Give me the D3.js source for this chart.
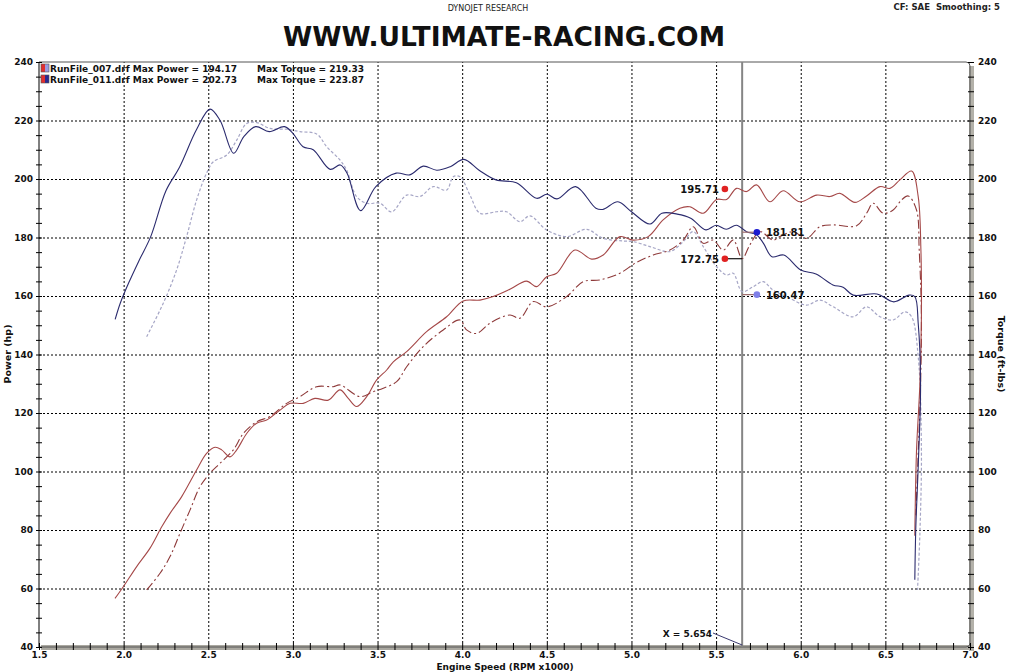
<!DOCTYPE html>
<html><head><meta charset="utf-8">
<script src="https://cdn.jsdelivr.net/npm/d3@7/dist/d3.min.js"></script>
<style>
body{margin:0;background:#fff;}
svg{display:block;}
text{font-family:"DejaVu Sans",Verdana,sans-serif;}
</style></head><body>
<svg id="c" width="1009" height="672"></svg>
<script>
// ---------- DATA ----------
const xTicks = [1.5,2.0,2.5,3.0,3.5,4.0,4.5,5.0,5.5,6.0,6.5,7.0];
const yTicks = [40,60,80,100,120,140,160,180,200,220,240];
const runNames = ["RunFile_007.drf","RunFile_011.drf"];
const maxPower = ["194.17","202.73"];
const maxTorque = ["219.33","223.87"];
const cursorX = 5.654;

// Run 011 torque (solid navy)
const t011Rpm = [1.95,1.98,2.03,2.09,2.16,2.25,2.33,2.43,2.51,2.57,2.65,2.71,2.78,2.86,2.95,3.0,3.06,3.12,3.22,3.28,3.32,3.40,3.49,3.61,3.69,3.77,3.85,3.93,4.01,4.1,4.2,4.32,4.44,4.5,4.56,4.67,4.79,4.83,4.92,5.0,5.11,5.18,5.27,5.35,5.44,5.5,5.56,5.62,5.68,5.74,5.78,5.83,5.9,6.0,6.09,6.19,6.25,6.31,6.45,6.55,6.64,6.674,6.694,6.708,6.694,6.68,6.674];
const t011 = [152,157.5,164.5,172,180.3,196,204,216.8,223.9,220,208.8,214.5,217.9,216.2,217.9,215.6,211,210,203.3,204.8,202,189.2,197.4,202,201.4,204.4,203,204.2,206.7,203,199.7,198.7,193.4,194.8,193.2,197.4,190,189.6,192.2,188.8,184.6,188.3,188,186.6,182.6,184.2,182.8,184.2,182,180.9,178,173.4,174,168.9,167.5,163.8,163,160.3,160.7,158,160.3,159.8,150.7,130,101.6,81,63];

// Run 007 torque (dotted lavender)
const t007Rpm = [2.136,2.234,2.313,2.372,2.431,2.49,2.53,2.609,2.668,2.727,2.786,2.864,2.963,3.042,3.14,3.2,3.278,3.317,3.376,3.436,3.514,3.583,3.672,3.75,3.829,3.908,3.947,3.987,4.046,4.105,4.203,4.262,4.341,4.4,4.499,4.617,4.735,4.833,4.951,5.01,5.109,5.227,5.306,5.365,5.424,5.503,5.562,5.601,5.654,5.72,5.778,5.837,5.916,6.034,6.113,6.192,6.31,6.389,6.468,6.546,6.615,6.655,6.694,6.713,6.704,6.69];
const t007 = [146.1,157.5,168.9,180.3,192.8,202,205.9,208.2,213.3,219,219.3,217.3,217,216.2,215.4,211,206.5,203.1,194,191.7,191.7,188.8,194.5,194,197.4,196.2,200.8,200.8,194.5,188.3,188.8,188.8,185.4,187.4,182.6,180.3,182.8,179.7,178.8,178.6,176.9,175.2,178.6,182,176.9,170,167.2,167.8,161.5,163.2,164.9,162,159.8,156.9,158.6,156.3,152.9,156.3,152.9,151.8,154.6,152.9,139.3,107,79,59.5];

// Run 011 power (solid red)
const p011Rpm = [1.949,1.998,2.077,2.156,2.225,2.274,2.343,2.431,2.49,2.54,2.579,2.628,2.668,2.727,2.786,2.845,2.924,2.983,3.061,3.13,3.209,3.278,3.327,3.376,3.436,3.495,3.554,3.593,3.672,3.79,3.908,4.006,4.105,4.183,4.282,4.38,4.44,4.499,4.558,4.666,4.765,4.833,4.932,5.01,5.099,5.187,5.286,5.345,5.424,5.503,5.562,5.621,5.68,5.739,5.818,5.896,5.995,6.094,6.172,6.231,6.32,6.389,6.468,6.527,6.586,6.655,6.694,6.71,6.713,6.704,6.684,6.674];
const p011 = [56.6,60.6,67.5,73.8,81.1,85.7,91.4,100.5,106.2,108.3,107.4,105,107.4,113,116.5,117.6,121,123.3,123.3,125,124.4,127.9,125,122.2,125.6,131.3,134.7,137.5,141,147.8,152.9,158.3,158.6,159.8,162.3,165.1,163.2,166.6,167.8,175.7,172.6,174,180.3,179.1,180.3,186,190,190.5,188.3,193,193,196.8,195.7,198,192.2,196,192.2,194.5,194,195.1,192,194.2,197.4,196.8,199.7,202.7,194,175.7,153,130,107,78];

// Run 007 power (dash-dot brown)
const p007Rpm = [2.136,2.215,2.274,2.333,2.392,2.451,2.51,2.569,2.648,2.707,2.786,2.864,2.963,3.042,3.14,3.238,3.278,3.396,3.475,3.534,3.613,3.672,3.77,3.888,3.987,4.026,4.085,4.164,4.282,4.341,4.42,4.499,4.617,4.715,4.814,4.932,5.03,5.128,5.227,5.306,5.365,5.424,5.483,5.542,5.601,5.654,5.699,5.759,5.837,5.877,5.955,6.034,6.113,6.192,6.33,6.389,6.428,6.487,6.546,6.595,6.635,6.684,6.70,6.713,6.708,6.69,6.68];
const p007 = [59.5,65.2,70.9,78.9,86.8,94.8,99.4,102.8,107.4,113,117,118.8,123.3,125.6,129,129,129.6,125.6,127.3,128.5,130.7,135.8,142.7,148.4,151.8,148.4,147.2,150.7,153.5,152.4,158.1,156.3,159.8,164.9,165.5,167.8,171.5,174,175.7,179.1,183.7,178,179.1,175.7,179.1,172.8,177.4,182,179.1,180.3,182,179.7,183.7,184.3,184,188.3,191.7,188.3,189.4,192.8,194.2,189.4,175.7,153,130,100,85];

// cursor readouts
const readLabels = ["195.71","172.75","181.81","160.47"];
const readValues = [195.71,172.75,181.81,160.47];

// ---------- DRAW ----------
const svg = d3.select("#c");
const L=39, R=970, T=62, B=647;
const x = d3.scaleLinear().domain([1.5,7.0]).range([L,R]);
const y = d3.scaleLinear().domain([40,240]).range([B,T]);

// header texts
svg.append("text").attr("x",488).attr("y",11).attr("text-anchor","middle")
  .attr("font-size",8).attr("fill","#222").text("DYNOJET RESEARCH");
svg.append("text").attr("x",1000).attr("y",10).attr("text-anchor","end")
  .attr("font-size",8.5).attr("font-weight","bold").attr("fill","#222").text("CF: SAE\u00a0\u00a0Smoothing: 5");
svg.append("text").attr("x",283).attr("y",46).attr("font-size",27).attr("font-weight","bold")
  .attr("textLength",442).attr("lengthAdjust","spacingAndGlyphs").attr("fill","#111")
  .text("WWW.ULTIMATE-RACING.COM");

// grid
const gridX = xTicks.filter(v=>v>1.5 && v<7.0);
const gridY = yTicks.filter(v=>v>40 && v<240);
svg.append("g").attr("transform",`translate(0,${B})`)
  .call(d3.axisBottom(x).tickValues(gridX).tickSize(-(B-T)).tickFormat(""))
  .call(g=>g.select(".domain").remove())
  .call(g=>g.selectAll("line").attr("stroke","#000").attr("stroke-dasharray","2,2"));
svg.append("g").attr("transform",`translate(${L},0)`)
  .call(d3.axisLeft(y).tickValues(gridY).tickSize(-(R-L)).tickFormat(""))
  .call(g=>g.select(".domain").remove())
  .call(g=>g.selectAll("line").attr("stroke","#000").attr("stroke-dasharray","2,2"));

// frame: right & bottom 3d bands
svg.append("rect").attr("x",R-1).attr("y",T+4).attr("width",5).attr("height",B-T).attr("fill","#b3b1a9");
svg.append("rect").attr("x",L+2).attr("y",B-2).attr("width",R-L+2).attr("height",5).attr("fill","#aaa8a0");
svg.append("path").attr("d",`M${L},${T}H${R-4}Q${R},${T} ${R},${T+4}V${B-4}Q${R},${B} ${R-4},${B}H${L}`)
  .attr("fill","none").attr("stroke","#555").attr("stroke-width",1);
svg.append("line").attr("x1",L).attr("x2",L).attr("y1",T).attr("y2",B).attr("stroke","#000");

// minor ticks
const minorY = d3.range(40,241,5);
const minorX = d3.range(15,71,1).map(v=>v/10);
svg.append("g").attr("transform",`translate(${L+3},0)`)
  .call(d3.axisLeft(y).tickValues(minorY).tickSize(6).tickFormat(""))
  .call(g=>g.select(".domain").remove()).call(g=>g.selectAll("line").attr("stroke","#000"));
svg.append("g").attr("transform",`translate(${R-2},0)`)
  .call(d3.axisRight(y).tickValues(minorY).tickSize(6).tickFormat(""))
  .call(g=>g.select(".domain").remove()).call(g=>g.selectAll("line").attr("stroke","#000"));
svg.append("g").attr("transform",`translate(0,${B+3})`)
  .call(d3.axisTop(x).tickValues(minorX).tickSize(7).tickFormat(""))
  .call(g=>g.select(".domain").remove()).call(g=>g.selectAll("line").attr("stroke","#000"));

// tick labels
svg.append("g").attr("transform",`translate(${L},0)`)
  .call(d3.axisLeft(y).tickValues(yTicks).tickSize(0).tickPadding(6).tickFormat(d3.format("d")))
  .call(g=>g.select(".domain").remove())
  .call(g=>g.selectAll("text").attr("font-size",9).attr("font-weight","bold").attr("fill","#111")
     .attr("font-family","DejaVu Sans"));
svg.append("g").attr("transform",`translate(${R},0)`)
  .call(d3.axisRight(y).tickValues(yTicks).tickSize(0).tickPadding(8).tickFormat(d3.format("d")))
  .call(g=>g.select(".domain").remove())
  .call(g=>g.selectAll("text").attr("font-size",9).attr("font-weight","bold").attr("fill","#111")
     .attr("font-family","DejaVu Sans"));
svg.append("g").attr("transform",`translate(0,${B})`)
  .call(d3.axisBottom(x).tickValues(xTicks).tickSize(0).tickPadding(5).tickFormat(d3.format(".1f")))
  .call(g=>g.select(".domain").remove())
  .call(g=>g.selectAll("text").attr("font-size",9).attr("font-weight","bold").attr("fill","#111")
     .attr("font-family","DejaVu Sans"));

// axis titles
svg.append("text").attr("transform","translate(11,354) rotate(-90)").attr("text-anchor","middle")
  .attr("font-size",9.5).attr("font-weight","bold").attr("fill","#111").text("Power (hp)");
svg.append("text").attr("transform","translate(998,354) rotate(90)").attr("text-anchor","middle")
  .attr("font-size",9.5).attr("font-weight","bold").attr("fill","#111").text("Torque (ft-lbs)");
svg.append("text").attr("x",505).attr("y",670).attr("text-anchor","middle")
  .attr("font-size",9).attr("font-weight","bold").attr("fill","#111").text("Engine Speed (RPM x1000)");

// cursor line
svg.append("line").attr("x1",x(cursorX)).attr("x2",x(cursorX)).attr("y1",T).attr("y2",B)
  .attr("stroke","#858585").attr("stroke-width",2);

// series
const line = d3.line().x(d=>x(d[0])).y(d=>y(d[1])).curve(d3.curveCatmullRom.alpha(0.5));
const zip=(a,b)=>a.map((v,i)=>[v,b[i]]);
svg.append("path").datum(zip(t007Rpm,t007)).attr("d",line).attr("fill","none")
  .attr("stroke","#a6a6c6").attr("stroke-width",1.2).attr("stroke-dasharray","3,2");
svg.append("path").datum(zip(p007Rpm,p007)).attr("d",line).attr("fill","none")
  .attr("stroke","#8e3a3a").attr("stroke-width",1.1).attr("stroke-dasharray","9,3,2,3");
svg.append("path").datum(zip(p011Rpm,p011)).attr("d",line).attr("fill","none")
  .attr("stroke","#a54848").attr("stroke-width",1.1);
svg.append("path").datum(zip(t011Rpm,t011)).attr("d",line).attr("fill","none")
  .attr("stroke","#2b2b6e").attr("stroke-width",1.1);

// cursor readouts: dots + leaders + labels
const cx = x(cursorX);
const leftDot = x(5.552), rightDot = x(5.741);
const readouts = [
  {v:readValues[0], lbl:readLabels[0], dx:leftDot, side:"left", col:"#e02222", lead:"none", dotY:196.6},
  {v:readValues[1], lbl:readLabels[1], dx:leftDot, side:"left", col:"#e02222", lead:"#111", dotY:readValues[1]},
  {v:readValues[2], lbl:readLabels[2], dx:rightDot, side:"right", col:"#1a1ad0", lead:"#a07070", dotY:readValues[2]},
  {v:readValues[3], lbl:readLabels[3], dx:rightDot, side:"right", col:"#8080e8", lead:"#a07070", dotY:readValues[3]}
];
readouts.forEach(r=>{
  if(r.lead!=="none") svg.append("line").attr("x1",r.dx).attr("x2",cx).attr("y1",y(r.dotY)).attr("y2",y(r.dotY))
      .attr("stroke",r.lead).attr("stroke-width",1.2);
  svg.append("circle").attr("cx",r.dx).attr("cy",y(r.dotY)).attr("r",3.3).attr("fill",r.col);
  svg.append("text").attr("x", r.side==="left"? r.dx-6 : r.dx+9).attr("y",y(r.dotY)+4)
    .attr("text-anchor", r.side==="left"?"end":"start").attr("font-size",10).attr("font-weight","bold")
    .attr("fill","#111").text(r.lbl);
});

// X readout
svg.append("text").attr("x",712).attr("y",637).attr("text-anchor","end").attr("font-size",9)
  .attr("font-weight","bold").attr("fill","#111").text("X = " + cursorX.toFixed(3));
svg.append("line").attr("x1",713).attr("y1",633).attr("x2",cx).attr("y2",B-2)
  .attr("stroke","#3a3a70").attr("stroke-width",1);

// legend
const swCols = [["#e03030","#9a9ae0"],["#e03030","#2a2a90"]];
runNames.forEach((n,i)=>{
  const yy = 64 + i*11;
  svg.append("rect").attr("x",41).attr("y",yy).attr("width",4).attr("height",8).attr("fill",swCols[i][0]);
  svg.append("rect").attr("x",45).attr("y",yy).attr("width",4).attr("height",8).attr("fill",swCols[i][1]);
  svg.append("rect").attr("x",41).attr("y",yy).attr("width",8).attr("height",8).attr("fill","none").attr("stroke","#555").attr("stroke-width",0.6);
  svg.append("text").attr("x",50).attr("y",yy+8).attr("font-size",9).attr("font-weight","bold").attr("fill","#111")
    .text(`${n} Max Power = ${maxPower[i]}`);
  svg.append("text").attr("x",257).attr("y",yy+8).attr("font-size",9).attr("font-weight","bold").attr("fill","#111")
    .text(`Max Torque = ${maxTorque[i]}`);
});
</script>
</body></html>
